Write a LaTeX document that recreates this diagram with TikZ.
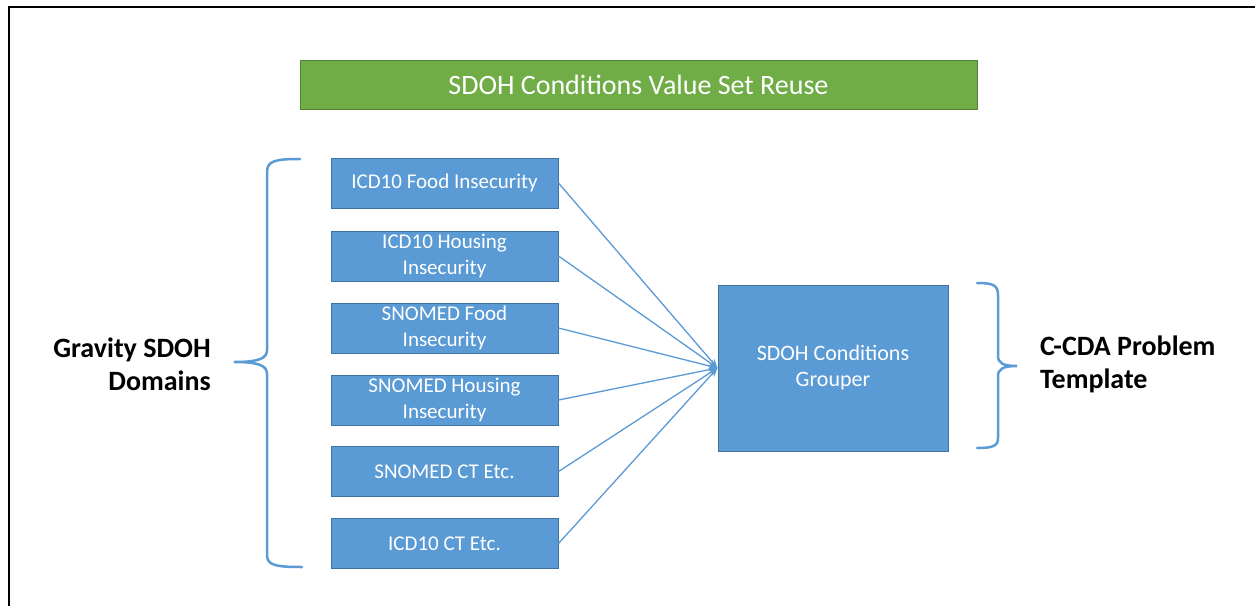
\documentclass[tikz,border=0pt]{standalone}
\usepackage{fontspec}
\setmainfont{Carlito}
\usetikzlibrary{arrows.meta}
\definecolor{boxblue}{HTML}{5B9BD5}
\definecolor{boxedge}{HTML}{41719C}
\definecolor{tgreen}{HTML}{70AD47}
\definecolor{tgedge}{HTML}{548235}
\tikzset{
  srcbox/.style={draw=boxedge, fill=boxblue, line width=1pt, minimum width=227pt, minimum height=50pt,
    inner sep=0pt, text=white, align=center, font=\fontsize{21}{26}\selectfont},
  grpbox/.style={draw=boxedge, fill=boxblue, line width=1pt, minimum width=230pt, minimum height=166pt,
    inner sep=0pt, text=white, align=center, font=\fontsize{22}{26}\selectfont},
  titlebox/.style={draw=tgedge, fill=tgreen, line width=1pt, minimum width=677pt, minimum height=49pt,
    inner sep=0pt, text=white, font=\fontsize{28}{33}\selectfont},
  conn/.style={draw=boxblue, line width=1.3pt, -{Stealth[length=9pt,width=7pt]}},
  bracestyle/.style={draw=boxblue, line width=2.5pt, line cap=round},
  lbl/.style={inner sep=0pt, font=\bfseries\fontsize{28}{33}\selectfont}
}
\begin{document}
\begin{tikzpicture}[x=1pt,y=-1pt]
\useasboundingbox (0,0) rectangle (1255,605);
\fill[white] (0,0) rectangle (1255,605);
\draw[black, line width=2.5pt] (9,610) -- (9,7) -- (1260,7);

\node[titlebox] (title) at (638.5,84.5) {SDOH Conditions Value Set Reuse};

\node[srcbox] (b1) at (444.5,183) {ICD10 Food Insecurity};
\node[srcbox] (b2) at (444.5,256) {ICD10 Housing\\Insecurity};
\node[srcbox] (b3) at (444.5,328) {SNOMED Food\\Insecurity};
\node[srcbox] (b4) at (444.5,400) {SNOMED Housing\\Insecurity};
\node[srcbox] (b5) at (444.5,471.5) {SNOMED CT Etc.};
\node[srcbox] (b6) at (444.5,543.5) {ICD10 CT Etc.};

\node[grpbox] (grp) at (833,368) {SDOH Conditions\\Grouper};

\foreach \i in {1,...,6} {
  \draw[conn] (b\i.east) -- (grp.west);
}

\draw[bracestyle] (300,159) .. controls (275,159) and (267,161) .. (267,172) -- (267,350)
  .. controls (267,358) and (260,362) .. (234,362)
  .. controls (260,362) and (267,366) .. (267,374) -- (267,555)
  .. controls (267,565) and (275,567) .. (302,567);

\draw[bracestyle] (977,283) .. controls (993,283) and (998,285) .. (998,295) -- (998,356)
  .. controls (998,363) and (1003,366) .. (1017,366)
  .. controls (1003,366) and (998,369) .. (998,376) -- (998,438)
  .. controls (998,446) and (993,448) .. (977,448);

\node[lbl, anchor=east, align=right] (lgrav) at (211,364) {Gravity SDOH\\Domains};
\node[lbl, anchor=west, align=left] (lccda) at (1040,364) {C-CDA Problem\\Template};
\end{tikzpicture}
\end{document}
